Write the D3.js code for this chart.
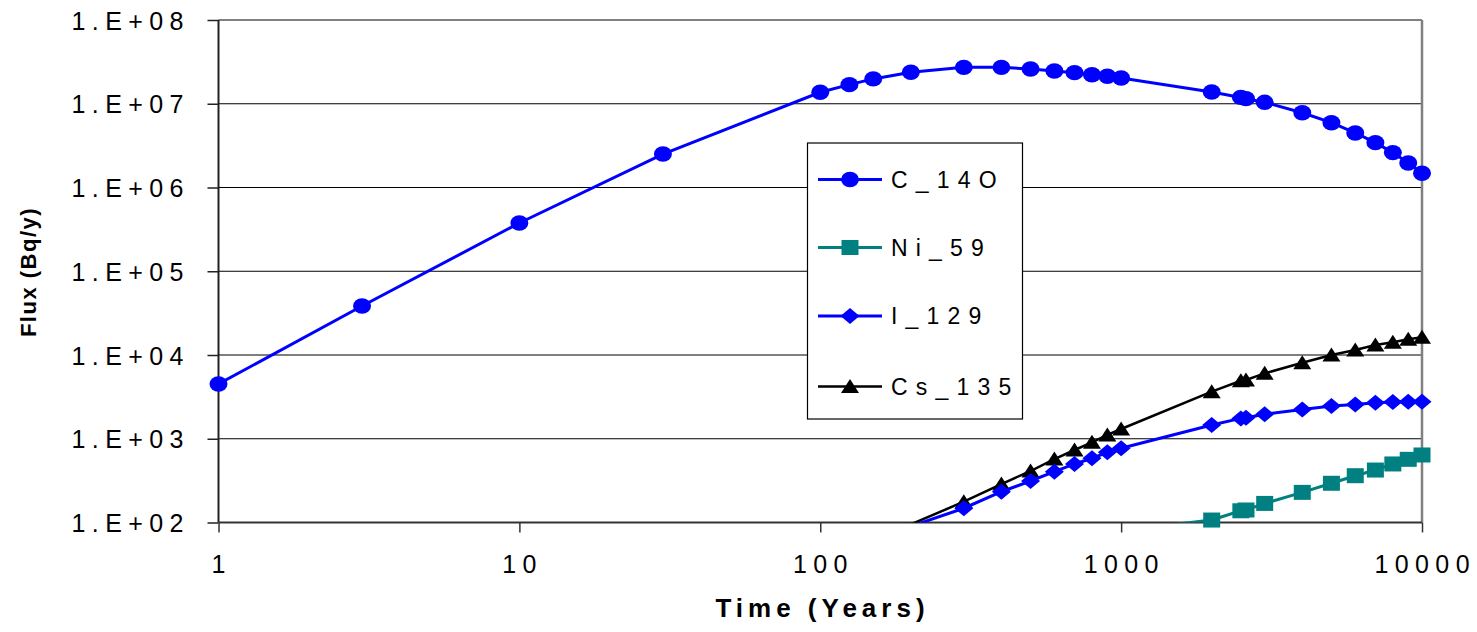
<!DOCTYPE html>
<html><head><meta charset="utf-8">
<script src="https://cdn.jsdelivr.net/npm/d3@7"></script>
<style>
html,body{margin:0;padding:0;background:#fff;}
text{font-family:Arial,"Liberation Sans",sans-serif;}
</style></head>
<body>
<svg id="chart" width="1477" height="632"></svg>
<script>
// ---- data ----
const timeC = [1,3,10,30,100,125,150,200,300,400,500,600,700,800,900,1000,2000,2500,2600,3000,4000,5000,6000,7000,8000,9000,10000];
const c14o = [4.51e3,3.85e4,3.77e5,2.51e6,1.37e7,1.69e7,1.98e7,2.38e7,2.72e7,2.72e7,2.60e7,2.46e7,2.35e7,2.22e7,2.13e7,2.03e7,1.38e7,1.19e7,1.15e7,1.04e7,7.8e6,5.94e6,4.48e6,3.43e6,2.61e6,1.96e6,1.48e6];
const timeNi = [1000,2000,2500,2600,3000,4000,5000,6000,7000,8000,9000,10000];
const ni59 = [80,107,138,141,169,229,294,362,423,500,568,640];
const timeIC = [200,300,400,500,600,700,800,900,1000,2000,2500,2600,3000,4000,5000,6000,7000,8000,9000,10000];
const i129 = [90,148,233,313,404,500,585,689,769,1460,1750,1780,1960,2240,2460,2570,2690,2740,2770,2770];
const cs135 = [95,177,288,412,573,734,907,1110,1307,3650,4930,5030,6040,8090,10000,11480,13160,14180,15400,16270];
const xTicks = [1,10,100,1000,10000];
const xTickLabels = ["1","10","100","1000","10000"];
const yTicks = [1e2,1e3,1e4,1e5,1e6,1e7,1e8];
const yTickLabels = ["1.E+02","1.E+03","1.E+04","1.E+05","1.E+06","1.E+07","1.E+08"];
const seriesNames = ["C_14O","Ni_59","I_129","Cs_135"];

// ---- layout ----
const L = 218.5, R = 1422, T = 20, B = 522.5;
const svg = d3.select("#chart");
const x = d3.scaleLog().domain([1,10000]).range([L,R]);
const y = d3.scaleLog().domain([1e2,1e8]).range([B,T]);

// gridlines
svg.append("g").selectAll("line").data(yTicks.slice(1,-1)).join("line")
  .attr("x1",L).attr("x2",R).attr("y1",d=>y(d)).attr("y2",d=>y(d))
  .attr("stroke","#000").attr("stroke-width",1.2);

// plot border (top/right gray)
svg.append("line").attr("x1",L).attr("x2",R).attr("y1",T).attr("y2",T).attr("stroke","#808080").attr("stroke-width",2);
svg.append("line").attr("x1",R).attr("x2",R).attr("y1",T).attr("y2",B).attr("stroke","#808080").attr("stroke-width",2.5);

// axes
const yAxis = d3.axisLeft(y).tickValues(yTicks).tickSize(11).tickFormat("");
const gy = svg.append("g").attr("transform",`translate(${L},0)`).call(yAxis);
gy.select(".domain").attr("stroke","#222").attr("stroke-width",2).attr("d",`M-0,${T}V${B}`);
gy.selectAll(".tick line").attr("stroke","#222").attr("stroke-width",1.5);

const xAxis = d3.axisBottom(x).tickValues(xTicks).tickSize(10).tickFormat("");
const gx = svg.append("g").attr("transform",`translate(0,${B})`).call(xAxis);
gx.select(".domain").attr("stroke","#333").attr("stroke-width",2).attr("d",`M${L},0H${R}`);
gx.selectAll(".tick line").attr("stroke","#333").attr("stroke-width",1.5);

// tick labels
const yls = 6.4;
svg.append("g").selectAll("text").data(yTicks).join("text")
  .attr("x",183.5+yls).attr("y",d=>y(d)+9.5)
  .attr("text-anchor","end").attr("font-size",25).attr("letter-spacing",yls)
  .attr("fill","#000").text((d,i)=>yTickLabels[i]);
svg.append("g").selectAll("text").data(xTicks).join("text")
  .attr("x",d=>x(d)+yls/2).attr("y",572.5)
  .attr("text-anchor","middle").attr("font-size",25).attr("letter-spacing",yls)
  .attr("fill","#000").text((d,i)=>xTickLabels[i]);

// axis titles
svg.append("text").attr("x",820+2.5).attr("y",617).attr("text-anchor","middle")
  .attr("font-size",26).attr("font-weight","bold").attr("letter-spacing",5)
  .text("Time (Years)");
svg.append("text").attr("transform","translate(36,272) rotate(-90)").attr("text-anchor","middle")
  .attr("font-size",22).attr("font-weight","bold").attr("letter-spacing",1.5)
  .text("Flux (Bq/y)");

// clip
svg.append("clipPath").attr("id","clip").append("rect").attr("x",L).attr("y",T).attr("width",R-L).attr("height",B-T);

const series = [
  {name:seriesNames[0], t:timeC, v:c14o, color:"#0000FF", sw:3, marker:"circle"},
  {name:seriesNames[1], t:timeNi, v:ni59, color:"#008080", sw:3, marker:"square"},
  {name:seriesNames[2], t:timeIC, v:i129, color:"#0000FF", sw:3, marker:"diamond"},
  {name:seriesNames[3], t:timeIC, v:cs135, color:"#000000", sw:2.5, marker:"triangle"}
];

function drawMarker(g, type, cx, cy, color){
  if(type==="circle"){
    g.append("ellipse").attr("cx",cx).attr("cy",cy).attr("rx",9).attr("ry",7.7).attr("fill",color);
  } else if(type==="square"){
    g.append("rect").attr("x",cx-8.5).attr("y",cy-7.5).attr("width",17).attr("height",15).attr("fill",color);
  } else if(type==="diamond"){
    g.append("path").attr("d",`M${cx-9.5},${cy}L${cx},${cy-8}L${cx+9.5},${cy}L${cx},${cy+8}Z`).attr("fill",color);
  } else {
    g.append("path").attr("d",`M${cx-9},${cy+6.5}L${cx},${cy-7.5}L${cx+9},${cy+6.5}Z`).attr("fill",color);
  }
}

const line = d3.line().x(d=>x(d[0])).y(d=>y(d[1]));
// draw in reverse order so C_14O on top
[...series].reverse().forEach(s=>{
  const pts = s.t.map((t,i)=>[t,s.v[i]]);
  svg.append("path").datum(pts).attr("d",line).attr("fill","none")
    .attr("stroke",s.color).attr("stroke-width",s.sw).attr("clip-path","url(#clip)");
  const g = svg.append("g");
  pts.filter(p=>p[1]>=1e2 && p[1]<=1e8).forEach(p=>drawMarker(g,s.marker,x(p[0]),y(p[1]),s.color));
});

// legend
const lg = svg.append("g");
lg.append("rect").attr("x",807.5).attr("y",143).attr("width",215).attr("height",276)
  .attr("fill","#fff").attr("stroke","#000").attr("stroke-width",1.2);
const legY = [179.5,247.5,316,386.5];
series.forEach((s,i)=>{
  lg.append("line").attr("x1",818).attr("x2",882).attr("y1",legY[i]).attr("y2",legY[i])
    .attr("stroke",s.color).attr("stroke-width",s.sw);
  drawMarker(lg,s.marker,850,legY[i],s.color);
  lg.append("text").attr("x",891).attr("y",legY[i]+8.3).attr("font-size",23)
    .attr("letter-spacing",8.2).attr("fill","#000").text(s.name);
});
</script>
</body></html>
